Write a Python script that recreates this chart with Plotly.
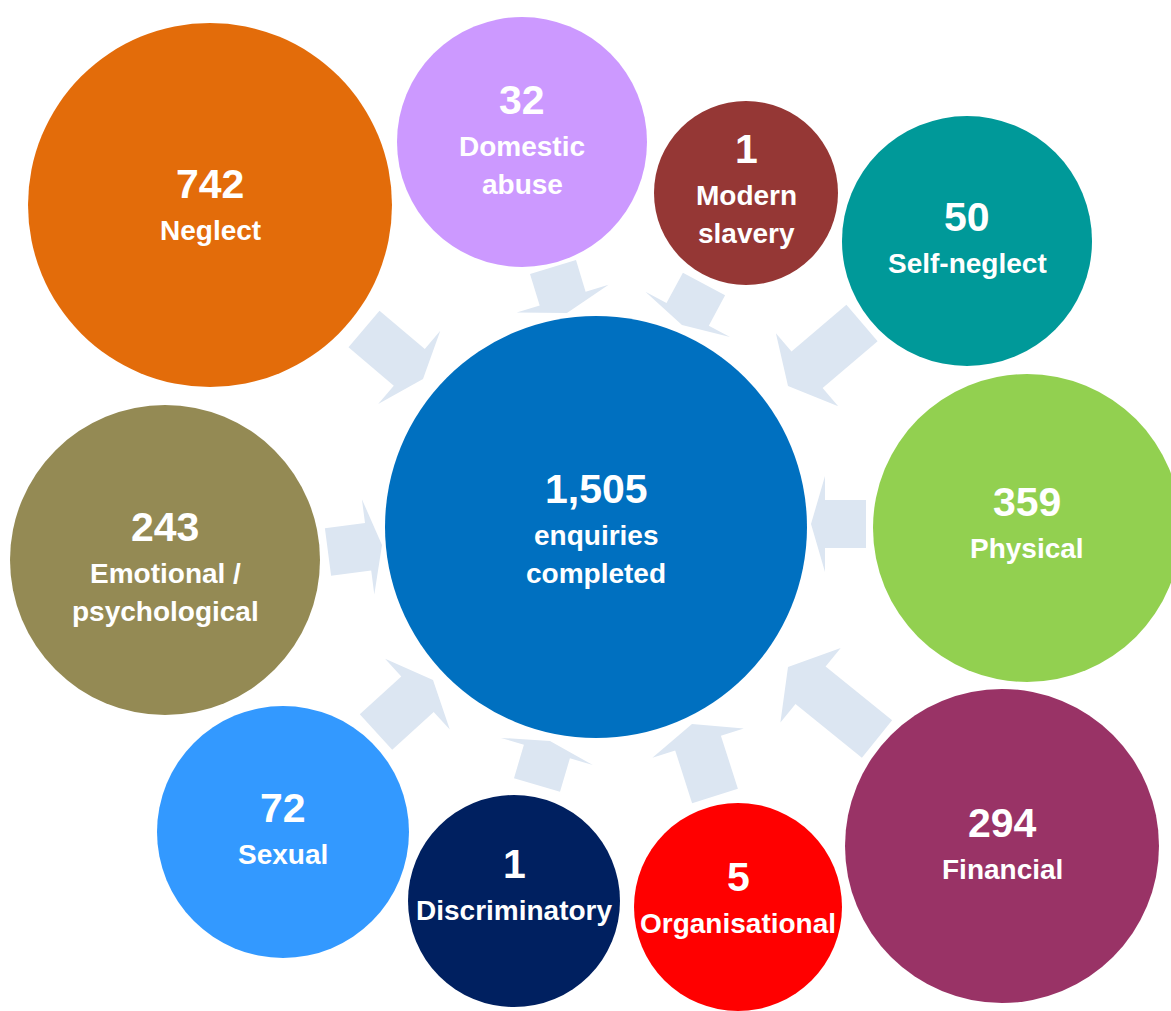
import math
import plotly.graph_objects as go

# ---------------- data ----------------
CATEGORIES = ["Neglect", "Domestic abuse", "Modern slavery", "Self-neglect", "Physical",
              "Financial", "Organisational", "Discriminatory", "Sexual", "Emotional / psychological"]
VALUES = [742, 32, 1, 50, 359, 294, 5, 1, 72, 243]
LABEL_LINES = [["Neglect"], ["Domestic", "abuse"], ["Modern", "slavery"], ["Self-neglect"], ["Physical"],
               ["Financial"], ["Organisational"], ["Discriminatory"], ["Sexual"], ["Emotional /", "psychological"]]
TOTAL = 1505
TOTAL_LINES = ["enquiries", "completed"]

# ---------------- layout / styling (pixel space) ----------------
W, H = 1171, 1011
COLORS = ["#E36C0A", "#CC99FF", "#953735", "#009999", "#92D050",
          "#993366", "#FF0000", "#002060", "#3399FF", "#948A54"]
CENTER_COLOR = "#0070C0"
ARROW_COLOR = "#DCE6F2"
# circle centre x, centre y, radius
CIRCLES = [(210, 205, 182), (522, 142, 125), (746, 193, 92), (967, 241, 125), (1027, 528, 154),
           (1002, 846, 157), (738, 907, 104), (514, 901, 106), (283, 832, 126), (165, 560, 155)]
CENTER_CIRCLE = (596, 527, 211)
# position of the number text (x, y); label lines follow below
TEXT_POS = [(210, 184), (522, 100), (746, 149), (967, 217), (1027, 502),
            (1002, 823), (738, 877), (514, 864), (283, 808), (165, 527)]
CENTER_TEXT = (596, 489)
# arrows: tail midpoint, tip, head length
ARROWS = [((364, 329), (423, 379), 18), ((553, 267), (567, 313), 15), ((704, 284), (682, 325), 12),
          ((862, 323), (788, 386), 25), ((866, 524), (811, 524), 14), ((877, 739), (788, 667), 29),
          ((715, 796), (692, 724), 20), ((537, 785), (550, 741), 11), ((376, 732), (433, 680), 21),
          ((328, 552), (382, 545), 14)]
SHAFT_HALF = 24
HEAD_HALF = 48
FONT = "Liberation Sans, Arial, sans-serif"
NUM_SIZE = 41
LABEL_SIZE = 28
FIRST_GAP = 46
LINE_GAP = 38


def arrow_path(tail, tip, head):
    tx, ty = tail
    px, py = tip
    dx, dy = px - tx, py - ty
    L = math.hypot(dx, dy)
    ux, uy = dx / L, dy / L
    nx, ny = -uy, ux
    bx, by = px - head * ux, py - head * uy
    pts = [
        (tx + SHAFT_HALF * nx, ty + SHAFT_HALF * ny),
        (bx + SHAFT_HALF * nx, by + SHAFT_HALF * ny),
        (bx + HEAD_HALF * nx, by + HEAD_HALF * ny),
        (px, py),
        (bx - HEAD_HALF * nx, by - HEAD_HALF * ny),
        (bx - SHAFT_HALF * nx, by - SHAFT_HALF * ny),
        (tx - SHAFT_HALF * nx, ty - SHAFT_HALF * ny),
    ]
    return "M " + " L ".join(f"{x:.1f},{y:.1f}" for x, y in pts) + " Z"


shapes = []
for tail, tip, head in ARROWS:
    shapes.append(dict(type="path", path=arrow_path(tail, tip, head), xref="x", yref="y",
                       fillcolor=ARROW_COLOR, line=dict(width=0), layer="below"))

for (cx, cy, r), col in zip(CIRCLES + [CENTER_CIRCLE], COLORS + [CENTER_COLOR]):
    shapes.append(dict(type="circle", xref="x", yref="y", x0=cx - r, x1=cx + r, y0=cy - r, y1=cy + r,
                       fillcolor=col, line=dict(width=0), layer="below"))

annotations = []


def add_block(x, y, number_text, lines):
    annotations.append(dict(x=x, y=y, xref="x", yref="y", text=f"<b>{number_text}</b>", showarrow=False,
                            xanchor="center", yanchor="middle",
                            font=dict(family=FONT, size=NUM_SIZE, color="white")))
    yy = y + FIRST_GAP
    for ln in lines:
        annotations.append(dict(x=x, y=yy, xref="x", yref="y", text=f"<b>{ln}</b>", showarrow=False,
                                xanchor="center", yanchor="middle",
                                font=dict(family=FONT, size=LABEL_SIZE, color="white")))
        yy += LINE_GAP


for (x, y), v, lines in zip(TEXT_POS, VALUES, LABEL_LINES):
    add_block(x, y, f"{v:,}", lines)
add_block(CENTER_TEXT[0], CENTER_TEXT[1], f"{TOTAL:,}", TOTAL_LINES)

fig = go.Figure()
fig.add_trace(go.Scatter(x=[0, W], y=[0, H], mode="markers", marker=dict(opacity=0),
                         hoverinfo="skip", showlegend=False))
fig.update_layout(
    width=W, height=H, margin=dict(l=0, r=0, t=0, b=0),
    paper_bgcolor="white", plot_bgcolor="white",
    xaxis=dict(range=[0, W], visible=False, fixedrange=True),
    yaxis=dict(range=[H, 0], visible=False, fixedrange=True),
    shapes=shapes, annotations=annotations, showlegend=False,
)
fig.write_html(
    "out.html",
    config={"displayModeBar": False},
    post_script="document.body.style.margin='0';document.body.style.overflow='hidden';",
)
